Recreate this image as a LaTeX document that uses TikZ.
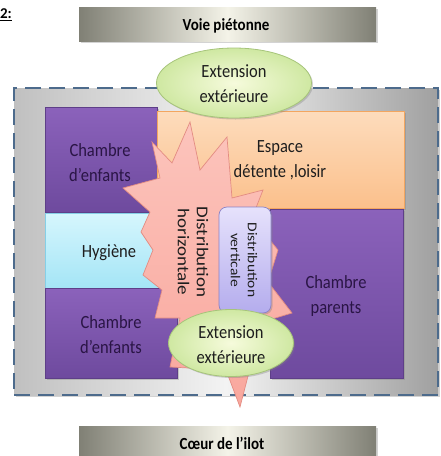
\documentclass[tikz,border=0pt]{standalone}
\usepackage{fontspec}
\setmainfont{Carlito}
\usetikzlibrary{shapes.geometric,shadows}
\definecolor{purpleTop}{HTML}{8B62BB}
\definecolor{purpleBot}{HTML}{6E4A9E}
\definecolor{purpleEdge}{HTML}{5E3F88}
\definecolor{roomText}{HTML}{2A1545}
\definecolor{orangeTop}{HTML}{FDDCBC}
\definecolor{orangeBot}{HTML}{FBC08C}
\definecolor{orangeEdge}{HTML}{F3A660}
\definecolor{cyanTop}{HTML}{D6F6FD}
\definecolor{cyanBot}{HTML}{A4E5F6}
\definecolor{cyanEdge}{HTML}{86CFE6}
\definecolor{pinkTop}{HTML}{FCC4BC}
\definecolor{pinkBot}{HTML}{F9A79D}
\definecolor{pinkEdge}{HTML}{E38C82}
\definecolor{lavTop}{HTML}{E6E2FC}
\definecolor{lavBot}{HTML}{B4ACED}
\definecolor{lavEdge}{HTML}{8A82C6}
\definecolor{greenIn}{HTML}{F6FBDC}
\definecolor{greenOut}{HTML}{CFE8A2}
\definecolor{greenEdge}{HTML}{A6C47A}
\definecolor{grayL}{HTML}{C0C0C0}
\definecolor{grayM}{HTML}{F3F3F3}
\definecolor{grayR}{HTML}{A0A0A0}
\definecolor{dashC}{HTML}{4D6B8C}
\definecolor{barEdge}{HTML}{808075}
\definecolor{barMid}{HTML}{F4F3E8}
\definecolor{darkText}{HTML}{1E1E1E}
\begin{document}
\begin{tikzpicture}[x=1pt,y=-1pt,
  shad/.style={drop shadow={shadow xshift=1.5pt,shadow yshift=-1.5pt,opacity=0.35}},
  box/.style={rectangle,inner sep=0pt,outer sep=0pt,shad},
  room/.style={box,draw=purpleEdge,line width=0.5pt,top color=purpleTop,bottom color=purpleBot},
  bar/.style={box,left color=barEdge,right color=barEdge,middle color=barMid,minimum width=297pt},
  ext/.style={ellipse,inner sep=0pt,draw=greenEdge,line width=0.8pt,inner color=greenIn,outer color=greenOut,shad},
  lbl/.style={font=\fontsize{16.5}{22}\selectfont,align=center,inner sep=0pt,yscale=1.13,transform shape},
  vlbl/.style={align=center,inner sep=0pt,rotate=-90,xscale=1.15,transform shape},
  barlbl/.style={font=\fontsize{15}{18}\bfseries\selectfont,inner sep=0pt,yscale=1.13,transform shape,text=black}
]
\useasboundingbox (0,0) rectangle (440,456);

% heading fragment
\node[font=\fontsize{15}{18}\bfseries\selectfont,anchor=east,inner sep=0pt] (num) at (12,15) {\underline{2:}};

% top and bottom bars
\node[bar,minimum height=34pt] (voie) at (227.5,24) {};
\node[bar,minimum height=36pt] (coeur) at (227.5,444) {};

% outer dashed zone
\node[box,minimum width=424pt,minimum height=307pt,left color=grayL,right color=grayR,middle color=grayM,
      draw=dashC,line width=2.2pt,dash pattern=on 16pt off 8pt] (zone) at (226,241.5) {};

% rooms
\node[room,minimum width=112pt,minimum height=105pt] (ch1) at (101,159.5) {};
\node[box,draw=orangeEdge,line width=0.6pt,top color=orangeTop,bottom color=orangeBot,
      minimum width=247pt,minimum height=97pt] (esp) at (280.5,159.5) {};
\node[box,draw=cyanEdge,line width=0.5pt,top color=cyanTop,bottom color=cyanBot,
      minimum width=115pt,minimum height=75pt] (hyg) at (102.5,250.5) {};
\node[room,minimum width=132pt,minimum height=90pt] (ch2) at (111,333) {};
\node[room,minimum width=133pt,minimum height=169pt] (chp) at (336.5,293.5) {};

% starburst (horizontal distribution)
\shade[top color=pinkTop,bottom color=pinkBot,draw=pinkEdge,line width=0.7pt,line join=miter]
  (190,122) -- (200,170) -- (227,137) -- (232,198) -- (263,190) -- (252,218) -- (278,250)
  -- (268,282) -- (292,313) -- (262,322) -- (240,407) -- (226,370) -- (170,367) -- (180,318)
  -- (155,318) -- (162,290) -- (143,275) -- (153,250) -- (141,232) -- (150,212) -- (123,188)
  -- (160,178) -- (152,142) -- (172,163) -- cycle;

% vertical distribution
\node[box,draw=lavEdge,line width=0.7pt,top color=lavTop,bottom color=lavBot,rounded corners=8pt,
      minimum width=52pt,minimum height=106pt] (dv) at (245,260) {};

% exterior extensions
\node[ext,minimum width=155pt,minimum height=70pt] (ext1) at (234,83) {};
\node[ext,minimum width=125pt,minimum height=67pt] (ext2) at (231,343) {};

% texts
\node[barlbl] (tvoie) at (226,26) {Voie piétonne};
\node[barlbl] (tcoeur) at (222,443) {Cœur de l’ilot};
\node[lbl,text=darkText] (text1) at (234,84) {Extension\\extérieure};
\node[lbl,text=darkText] (text2) at (231,345) {Extension\\extérieure};
\node[lbl,text=roomText] (tch1) at (100,163) {Chambre\\d’enfants};
\node[lbl,text=darkText] (tesp) at (280,160) {Espace\\détente ,loisir};
\node[lbl,text=darkText] (thyg) at (109,253) {Hygiène};
\node[lbl,text=roomText] (tch2) at (111,335) {Chambre\\d’enfants};
\node[lbl,text=roomText] (tchp) at (336,296) {Chambre\\parents};
\node[vlbl,font=\fontsize{16.5}{19}\selectfont,text=darkText] (tdh) at (193,252) {Distribution\\horizontale};
\node[vlbl,font=\fontsize{13.5}{17}\selectfont,text=darkText] (tdv) at (244,260) {Distribution\\verticale};
\end{tikzpicture}
\end{document}
